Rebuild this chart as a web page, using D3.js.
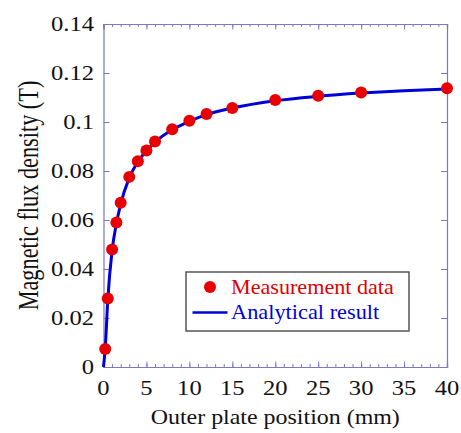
<!DOCTYPE html>
<html>
<head>
<meta charset="utf-8">
<script src="https://cdn.jsdelivr.net/npm/d3@7"></script>
<style>
  html, body { margin: 0; padding: 0; background: #fff; }
  svg { display: block; }
  text { font-family: "Liberation Serif", "Times New Roman", serif; }
</style>
</head>
<body>
<svg id="chart" width="461" height="433"></svg>
<script>
// ---- data ----
const measX = [0.2, 0.5, 1, 1.5, 2, 3, 4, 5, 6, 8, 10, 12, 15, 20, 25, 30, 40];
const measY = [0.0073, 0.028, 0.048, 0.059, 0.067, 0.0776, 0.084, 0.0884, 0.092, 0.097, 0.1005, 0.1033, 0.1057, 0.109, 0.1107, 0.112, 0.1138];
const anaX = [0, 0.1, 0.2, 0.5, 1, 1.5, 2, 3, 4, 5, 6, 8, 10, 12, 15, 20, 25, 30, 35, 40];
const anaY = [0, 0.0035, 0.0075, 0.0275, 0.0475, 0.0585, 0.0665, 0.0772, 0.0838, 0.0882, 0.0918, 0.0968, 0.1003, 0.1030, 0.1057, 0.1087, 0.1105, 0.1118, 0.1128, 0.1135];
const xTicks = [0, 5, 10, 15, 20, 25, 30, 35, 40];
const xMinorTicks = d3.range(0, 41, 1);
const yTicks = [0, 0.02, 0.04, 0.06, 0.08, 0.1, 0.12, 0.14];
const yTickLabels = ["0", "0.02", "0.04", "0.06", "0.08", "0.1", "0.12", "0.14"];
const legendLabels = ["Measurement data", "Analytical result"];

// ---- layout ----
const pL = 103.5, pR = 447, pT = 24, pB = 367;
const axisColor = "#7a7ac4";
const svg = d3.select("#chart");

const x = d3.scaleLinear().domain([0, 40]).range([pL, pR]);
const y = d3.scaleLinear().domain([0, 0.14]).range([pB, pT]);

const g = svg.append("g");
const gb = g.append("g").attr("transform", `translate(0,${pB})`)
  .call(d3.axisBottom(x).tickValues(xMinorTicks).tickSize(-3).tickFormat(""));
const gb2 = g.append("g").attr("transform", `translate(0,${pB})`)
  .call(d3.axisBottom(x).tickValues(xTicks).tickSize(-5.5).tickFormat(""));
const gt = g.append("g").attr("transform", `translate(0,${pT})`)
  .call(d3.axisTop(x).tickValues(xMinorTicks).tickSize(-3).tickFormat(""));
const gt2 = g.append("g").attr("transform", `translate(0,${pT})`)
  .call(d3.axisTop(x).tickValues(xTicks).tickSize(-5.5).tickFormat(""));
const gl = g.append("g").attr("transform", `translate(${pL},0)`)
  .call(d3.axisLeft(y).tickValues(yTicks).tickSize(-6).tickFormat(""));
const gr = g.append("g").attr("transform", `translate(${pR},0)`)
  .call(d3.axisRight(y).tickValues(yTicks).tickSize(-6).tickFormat(""));

[gb, gb2, gt, gt2, gl, gr].forEach(a => {
  a.selectAll("path.domain").attr("stroke", axisColor).attr("stroke-width", 1.2);
  a.selectAll(".tick line").attr("stroke", axisColor).attr("stroke-width", 1);
});

// tick labels (reference text is slightly stretched horizontally)
svg.append("g").selectAll("text").data(xTicks).join("text")
  .attr("transform", d => `translate(${x(d)},395) scale(1.17,1)`)
  .attr("text-anchor", "middle").attr("font-size", 21).attr("fill", "#111")
  .text(d => d);
svg.append("g").selectAll("text").data(yTicks).join("text")
  .attr("transform", d => `translate(94,${y(d) + 7}) scale(1.17,1)`)
  .attr("text-anchor", "end").attr("font-size", 21).attr("fill", "#111")
  .text((d, i) => yTickLabels[i]);

// axis titles
svg.append("text")
  .attr("transform", `translate(${(pL + pR) / 2},424) scale(1.14,1)`)
  .attr("text-anchor", "middle").attr("font-size", 21).attr("fill", "#111")
  .text("Outer plate position (mm)");
svg.append("text")
  .attr("transform", `translate(37.5,${(pT + pB) / 2}) scale(1.35,1) rotate(-90)`)
  .attr("text-anchor", "middle").attr("font-size", 22.3).attr("fill", "#111")
  .text("Magnetic flux density (T)");

// analytical curve
const anaData = anaX.map((v, i) => [v, anaY[i]]);
const line = d3.line().x(d => x(d[0])).y(d => y(d[1])).curve(d3.curveMonotoneX);
svg.append("path").datum(anaData).attr("d", line)
  .attr("fill", "none").attr("stroke", "#0000d8").attr("stroke-width", 3);

// measurement points
const measData = measX.map((v, i) => [v, measY[i]]);
svg.append("g").selectAll("circle").data(measData).join("circle")
  .attr("cx", d => x(d[0])).attr("cy", d => y(d[1])).attr("r", 6)
  .attr("fill", "#e80000");

// legend
const lg = svg.append("g");
lg.append("rect").attr("x", 186).attr("y", 272).attr("width", 223).attr("height", 59)
  .attr("fill", "#fff").attr("stroke", "#555").attr("stroke-width", 1.5);
lg.append("circle").attr("cx", 210).attr("cy", 287).attr("r", 6).attr("fill", "#e80000");
lg.append("line").attr("x1", 192.5).attr("x2", 227.5).attr("y1", 312.5).attr("y2", 312.5)
  .attr("stroke", "#0000d8").attr("stroke-width", 2.5);
lg.append("text").attr("transform", "translate(231,294) scale(1.08,1)")
  .attr("font-size", 20.5).attr("fill", "#e00000").text(legendLabels[0]);
lg.append("text").attr("transform", "translate(231,319) scale(1.09,1)")
  .attr("font-size", 20.5).attr("fill", "#0000d8").text(legendLabels[1]);
</script>
</body>
</html>
